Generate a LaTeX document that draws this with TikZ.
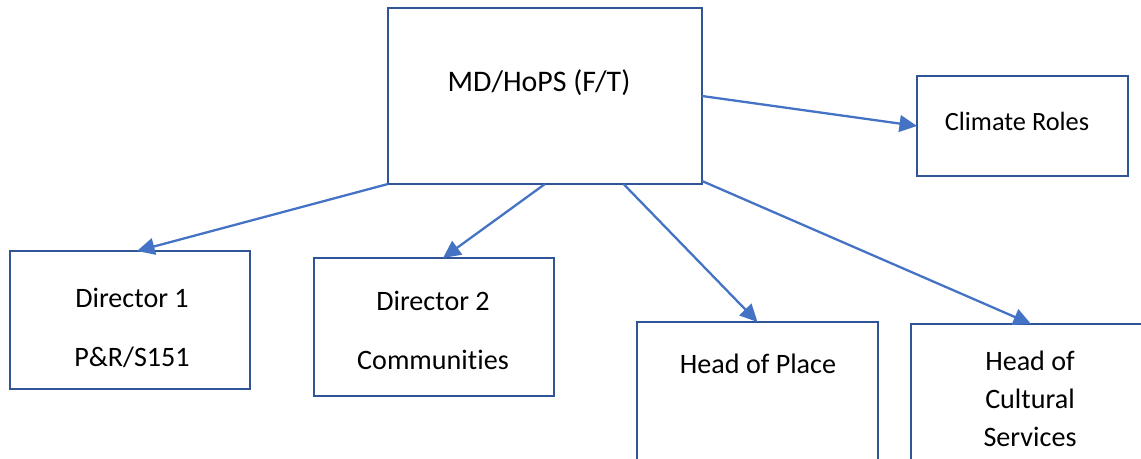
\documentclass[tikz,border=0pt]{standalone}
\usepackage{fontspec}
\setmainfont{Carlito}[Ligatures=NoCommon]
\usetikzlibrary{arrows.meta,calc}
\definecolor{boxblue}{RGB}{47,85,151}
\definecolor{arrowblue}{RGB}{68,114,196}

\begin{document}
\begin{tikzpicture}[x=0.02cm,y=-0.02cm,
  box/.style={draw=boxblue,line width=1.4pt,rectangle,inner sep=0pt,outer sep=0pt},
  lbl/.style={align=center,inner sep=0pt,font=\fontsize{16}{21.5}\selectfont},
  conn/.style={draw=arrowblue,line width=1.3pt,-{Triangle[length=10pt,width=9.5pt]}}]
\useasboundingbox (0,0) rectangle (1141,459);
\clip (0,0) rectangle (1141,459);
% boxes
\node [box,minimum width=6.28cm,minimum height=3.52cm] (md) at (545,96) {};
\node [box,minimum width=4.22cm,minimum height=2.0cm] (clim) at (1022.5,126) {};
\node [box,minimum width=4.8cm,minimum height=2.76cm] (dir1) at (130,320) {};
\node [box,minimum width=4.8cm,minimum height=2.76cm] (dir2) at (434,327) {};
\node [box,minimum width=4.82cm,minimum height=2.76cm] (hop) at (757.5,391) {};
\node [box,minimum width=4.8cm,minimum height=2.76cm] (hcs) at (1031,393) {};
% texts
\node [lbl,font=\fontsize{17}{21}\selectfont] (mdtxt) at (539,83) {MD/HoPS (F/T)};
\node [lbl,font=\fontsize{15}{18}\selectfont] (climtxt) at (1017,121) {Climate Roles};
\node [lbl] (dir1txt) at (132,328) {Director 1\\[12pt]P\&R/S151};
\node [lbl] (dir2txt) at (433,330) {Director 2\\[12pt]Communities};
\node [lbl] (hoptxt) at (758,364) {Head of Place};
\node [lbl] (hcstxt) at (1030,399) {Head of\\Cultural\\Services};
% arrows
\draw [conn] (md.east) -- (clim.west);
\draw [conn] (md.south west) -- ([xshift=0.14cm]dir1.north);
\draw [conn] (md.south) -- ([xshift=0.18cm]dir2.north);
\draw [conn] ($(md.south west)!0.75!(md.south east)$) -- (hop.north);
\draw [conn] ([yshift=0.06cm]md.south east) -- (hcs.north);
\end{tikzpicture}
\end{document}
